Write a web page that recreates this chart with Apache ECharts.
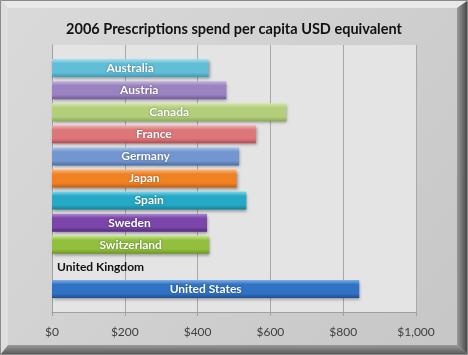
<!DOCTYPE html>
<html>
<head>
<meta charset="utf-8">
<script src="https://cdn.jsdelivr.net/npm/echarts@6/dist/echarts.min.js"></script>
<style>html,body{margin:0;padding:0;background:#fff}#c{width:468px;height:355px}</style>
</head>
<body>
<div id="c"></div>
<script>
const titleText = '2006 Prescriptions spend per capita USD equivalent';
const categories = ['Australia','Austria','Canada','France','Germany','Japan','Spain','Sweden','Switzerland','United Kingdom','United States'];
const spend = [430, 479, 644, 560, 514, 507, 534, 426, 432, 0, 844];
const axisMin = 0, axisMax = 1000, axisStep = 200;

// bar colours: [top highlight, middle, bottom shade]
const palette = [
  ['#a6e0ef','#62bdd6','#3d9bb6'],
  ['#c4b4dc','#9a83c0','#735a9a'],
  ['#d6eaa6','#b3cf7c','#8aab4e'],
  ['#f2b4b5','#dc7679','#b6494d'],
  ['#a9c2e8','#7296d0','#4d6fa8'],
  ['#fbb776','#f08224','#c4600d'],
  ['#7ed6ea','#25a9c6','#127f99'],
  ['#b08ad0','#7a46aa','#56287f'],
  ['#c6e58c','#92bf3d','#6c9623'],
  ['#cccccc','#aaaaaa','#888888'],
  ['#7eaee6','#3073c4','#1d4f94']
];
const FONT = 'Lato, "Open Sans", sans-serif';

const chart = echarts.init(document.getElementById('c'), null, {renderer:'canvas'});
const fmtMoney = v => '$' + String(v).replace(/\B(?=(\d{3})+(?!\d))/g, ',');

const barData = spend.map((v, i) => {
  const c = palette[i];
  const zero = v === 0;
  return {
    value: v,
    itemStyle: {
      color: new echarts.graphic.LinearGradient(0,0,0,1,[
        {offset:0,color:c[0]},{offset:0.25,color:c[1]},{offset:0.75,color:c[1]},{offset:1,color:c[2]}
      ])
    },
    label: zero ? {position:'right', distance:5, color:'#111', textShadowBlur:0} : {}
  };
});

chart.setOption({
  animation: false,
  backgroundColor: '#cfcfcf',
  title: {
    text: titleText, left: 'center', top: 17,
    textStyle: {fontFamily: FONT, fontSize: 14.5, fontWeight: 'bold', color: '#111'}
  },
  graphic: [
    {type:'rect', z:-20, silent:true, shape:{x:0.5,y:0.5,width:467,height:354}, style:{fill:new echarts.graphic.LinearGradient(0,0,1,1,[{offset:0,color:'#dadada'},{offset:1,color:'#c6c6c6'}]), stroke:'#8a8a8a', lineWidth:1}},
    {type:'polygon', z:-19, silent:true, shape:{points:[[1,1],[467,1],[457,8],[8,8]]}, style:{fill:'#e9e9e9'}},
    {type:'polygon', z:-19, silent:true, shape:{points:[[1,1],[8,8],[8,345],[1,354]]}, style:{fill:'#dedede'}},
    {type:'polygon', z:-19, silent:true, shape:{points:[[457,8],[467,1],[467,354],[457,345]]}, style:{fill:new echarts.graphic.LinearGradient(0,0,1,0,[{offset:0,color:'#9a9a9a'},{offset:1,color:'#4a4a4a'}])}},
    {type:'polygon', z:-19, silent:true, shape:{points:[[8,345],[457,345],[467,354],[1,354]]}, style:{fill:new echarts.graphic.LinearGradient(0,0,0,1,[{offset:0,color:'#9a9a9a'},{offset:1,color:'#5a5a5a'}])}}
  ],
  grid: [
    {left: 52, right: 52, top: 57, bottom: 55},
    {left: 52, right: 52, top: 45, bottom: 43, show: true, backgroundColor: '#e4e4e4', borderWidth: 0}
  ],
  xAxis: [
    {gridIndex: 0, type: 'value', min: axisMin, max: axisMax, interval: axisStep, show: false},
    {gridIndex: 1, type: 'value', min: axisMin, max: axisMax, interval: axisStep,
     axisLine: {show: true, lineStyle: {color: '#a0a0a0'}},
     axisTick: {show: true, inside: false, length: 4, lineStyle: {color: '#a0a0a0'}},
     splitLine: {show: true, lineStyle: {color: '#a8a8a8', width: 1}},
     axisLabel: {formatter: fmtMoney, margin: 14, color: '#404040', fontFamily: FONT, fontSize: 12}}
  ],
  yAxis: [
    {gridIndex: 0, type: 'category', data: categories, inverse: true, show: false},
    {gridIndex: 1, type: 'value', min: 0, max: 1,
     axisLine: {show: true, lineStyle: {color: '#a0a0a0'}},
     axisTick: {show: false}, axisLabel: {show: false}, splitLine: {show: false}}
  ],
  series: [{
    type: 'bar', xAxisIndex: 0, yAxisIndex: 0, barWidth: 18,
    data: barData,
    itemStyle: {shadowBlur: 3, shadowColor: 'rgba(0,0,0,0.35)', shadowOffsetX: 1, shadowOffsetY: 2},
    label: {
      show: true, position: 'inside', formatter: p => categories[p.dataIndex],
      color: '#fff', fontFamily: FONT, fontSize: 12, fontWeight: 'bold',
      textShadowColor: 'rgba(0,0,0,0.45)', textShadowBlur: 2
    }
  }]
});
</script>
</body>
</html>
